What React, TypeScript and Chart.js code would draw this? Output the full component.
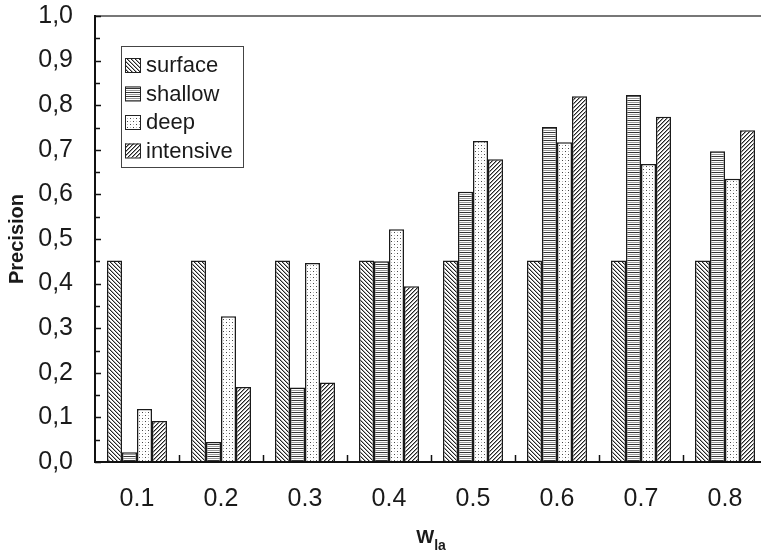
import React, { useEffect, useRef } from "react";
import { Chart, registerables } from "chart.js";

Chart.register(...registerables);

const categories = ["0.1", "0.2", "0.3", "0.4", "0.5", "0.6", "0.7", "0.8"];
const seriesNames = ["surface", "shallow", "deep", "intensive"];
const surface = [0.452, 0.452, 0.452, 0.452, 0.452, 0.452, 0.452, 0.452];
const shallow = [0.022, 0.045, 0.167, 0.45, 0.606, 0.751, 0.823, 0.697];
const deep = [0.119, 0.327, 0.446, 0.522, 0.72, 0.717, 0.668, 0.635];
const intensive = [0.092, 0.168, 0.178, 0.394, 0.679, 0.82, 0.774, 0.744];
const yTicks = [0, 0.1, 0.2, 0.3, 0.4, 0.5, 0.6, 0.7, 0.8, 0.9, 1.0];

const FONT = "'Liberation Sans', Arial, sans-serif";

function makePattern(kind: string): CanvasPattern | string {
  const size = kind === "deep" ? 6 : 4;
  const c = document.createElement("canvas");
  c.width = size;
  c.height = size;
  const g = c.getContext("2d");
  if (!g) return "#fff";
  g.fillStyle = "#fff";
  g.fillRect(0, 0, size, size);
  for (let y = 0; y < size; y++) {
    for (let x = 0; x < size; x++) {
      let col: string | null = null;
      if (kind === "surface") {
        const m = (((x - y) % 4) + 4) % 4;
        if (m === 0) col = "#222";
        else if (m === 1) col = "#aaa";
      } else if (kind === "intensive") {
        const m = (x + y) % 4;
        if (m === 0) col = "#222";
        else if (m === 1) col = "#999";
      } else if (kind === "shallow") {
        if (y === 0) col = "#333";
        else if (y === 2) col = "#999";
      } else if (kind === "deep") {
        if ((x === 1 && y === 1) || (x === 4 && y === 4)) col = "#444";
        else if ((x === 4 && y === 1) || (x === 1 && y === 4)) col = "#bbb";
      }
      if (col) {
        g.fillStyle = col;
        g.fillRect(x, y, 1, 1);
      }
    }
  }
  const ctx = document.createElement("canvas").getContext("2d");
  return ctx ? (ctx.createPattern(c, "repeat") as CanvasPattern) : "#fff";
}

const decorPlugin = {
  id: "decor",
  afterDraw(chart: any) {
    const ctx = chart.ctx as CanvasRenderingContext2D;
    const area = chart.chartArea;
    const xs = chart.scales.x;
    const ys = chart.scales.y;
    ctx.save();
    // top border
    ctx.strokeStyle = "#777";
    ctx.lineWidth = 2;
    ctx.beginPath();
    ctx.moveTo(area.left, area.top);
    ctx.lineTo(area.right, area.top);
    ctx.stroke();
    // axes
    ctx.strokeStyle = "#111";
    ctx.lineWidth = 2;
    ctx.beginPath();
    ctx.moveTo(area.left, area.top - 1);
    ctx.lineTo(area.left, area.bottom);
    ctx.lineTo(area.right, area.bottom);
    ctx.stroke();
    // y ticks (inside)
    ctx.lineWidth = 1.5;
    for (let i = 0; i <= 20; i++) {
      const v = i * 0.05;
      const py = Math.round(ys.getPixelForValue(v)) + 0.5;
      ctx.beginPath();
      ctx.moveTo(area.left, py);
      ctx.lineTo(area.left + (i % 2 === 0 ? 6 : 5), py);
      ctx.stroke();
    }
    // x ticks between categories
    for (let i = 1; i < categories.length; i++) {
      const px = Math.round((xs.getPixelForTick(i - 1) + xs.getPixelForTick(i)) / 2) + 0.5;
      ctx.beginPath();
      ctx.moveTo(px, area.bottom);
      ctx.lineTo(px, area.bottom - 7);
      ctx.stroke();
    }
    // y title
    ctx.fillStyle = "#1a1a1a";
    ctx.font = `bold 20px ${FONT}`;
    ctx.textAlign = "center";
    ctx.textBaseline = "middle";
    ctx.save();
    ctx.translate(17, (area.top + area.bottom) / 2);
    ctx.rotate(-Math.PI / 2);
    ctx.fillText("Precision", 0, 0);
    ctx.restore();
    // x title W_la
    const cx = (area.left + area.right) / 2;
    ctx.textBaseline = "alphabetic";
    ctx.textAlign = "left";
    ctx.font = `bold 19px ${FONT}`;
    const wW = ctx.measureText("W").width;
    ctx.font = `bold 14px ${FONT}`;
    const wS = ctx.measureText("la").width;
    const start = cx - (wW + wS) / 2;
    ctx.font = `bold 19px ${FONT}`;
    ctx.fillText("W", start, 543);
    ctx.font = `bold 14px ${FONT}`;
    ctx.fillText("la", start + wW, 550);
    // legend
    const lx = 121, ly = 46, lw = 122, lh = 121;
    ctx.fillStyle = "#fff";
    ctx.fillRect(lx, ly, lw, lh);
    ctx.strokeStyle = "#444";
    ctx.lineWidth = 1;
    ctx.strokeRect(lx + 0.5, ly + 0.5, lw, lh);
    const rows = [65, 93.5, 122, 150.5];
    chart.data.datasets.forEach((ds: any, i: number) => {
      const ry = rows[i];
      ctx.fillStyle = ds.backgroundColor;
      ctx.fillRect(125, ry - 7, 15, 14);
      ctx.strokeStyle = "#222";
      ctx.lineWidth = 1;
      ctx.strokeRect(125.5, ry - 6.5, 15, 14);
      ctx.fillStyle = "#1a1a1a";
      ctx.font = `22px ${FONT}`;
      ctx.textBaseline = "middle";
      ctx.textAlign = "left";
      ctx.fillText(ds.label, 146, ry + 1);
    });
    ctx.restore();
  },
};

export default function App() {
  const ref = useRef<HTMLCanvasElement | null>(null);
  useEffect(() => {
    if (!ref.current) return;
    const kinds = ["surface", "shallow", "deep", "intensive"];
    const values = [surface, shallow, deep, intensive];
    const chart = new Chart(ref.current, {
      type: "bar",
      data: {
        labels: categories,
        datasets: seriesNames.map((name, i) => ({
          label: name,
          data: values[i],
          backgroundColor: makePattern(kinds[i]) as any,
          borderColor: "#1a1a1a",
          borderWidth: 1.5,
          borderSkipped: "bottom" as const,
          barPercentage: 1,
          categoryPercentage: 60 / 84,
        })),
      },
      options: {
        responsive: false,
        devicePixelRatio: 1,
        animation: false,
        layout: { padding: { top: 16, left: 0, right: 0, bottom: 0 } },
        plugins: { legend: { display: false }, tooltip: { enabled: false } },
        scales: {
          x: {
            type: "category",
            grid: { display: false, drawTicks: false },
            border: { display: false },
            ticks: { color: "#1a1a1a", font: { size: 25, family: FONT }, padding: 22, maxRotation: 0 },
            afterFit: (s: any) => {
              s.height = 90;
              s.paddingLeft = 0;
              s.paddingRight = 0;
            },
          },
          y: {
            min: 0,
            max: 1,
            grid: { display: false, drawTicks: false },
            border: { display: false },
            afterBuildTicks: (s: any) => {
              s.ticks = yTicks.map((v) => ({ value: v }));
            },
            ticks: {
              color: "#1a1a1a",
              font: { size: 25, family: FONT },
              padding: 22,
              callback: (v: any) => Number(v).toFixed(1).replace(".", ","),
            },
            afterFit: (s: any) => {
              s.width = 95;
              s.paddingTop = 0;
              s.paddingBottom = 0;
            },
          },
        },
      },
      plugins: [decorPlugin],
    });
    return () => chart.destroy();
  }, []);
  return (
    <div
      style={{
        position: "fixed",
        left: 0,
        top: 0,
        width: 761,
        height: 552,
        overflow: "hidden",
        background: "#fff",
      }}
    >
      <canvas ref={ref} width={767} height={552} style={{ display: "block" }} />
    </div>
  );
}
